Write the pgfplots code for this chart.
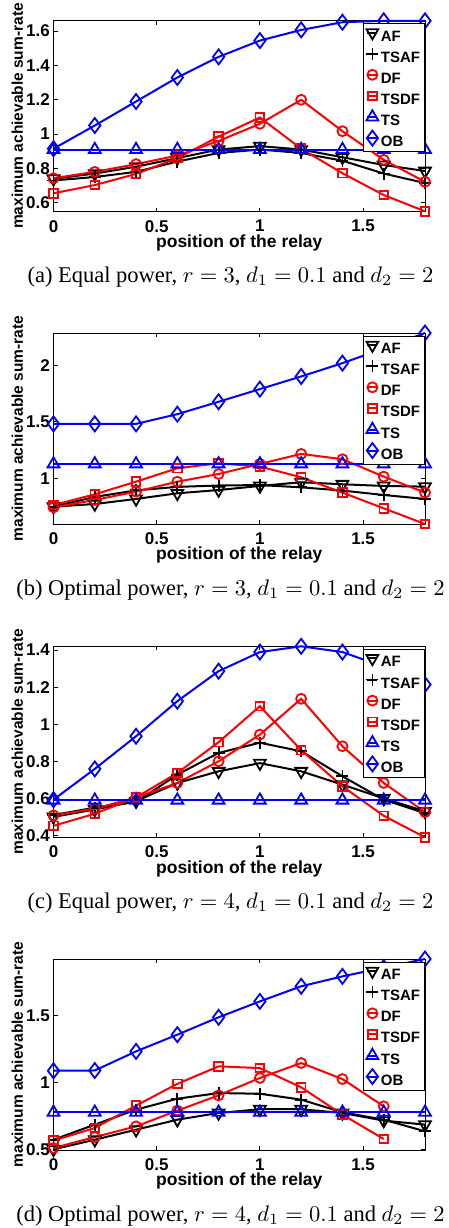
\documentclass[border=0pt]{standalone}
\usepackage{fontspec}
\setmainfont{Liberation Serif}
\setsansfont{Liberation Sans}
\usepackage{pgfplots}
\pgfplotsset{compat=1.18}
\definecolor{mblue}{RGB}{0,0,255}
\definecolor{mred}{RGB}{255,0,0}
\tikzset{capt/.style={anchor=base, font=\fontsize{10}{12}\selectfont\rmfamily, scale=2.25, transform shape}}
\pgfplotsset{
 panel/.style={
  scale only axis, width=371.5pt, height=191pt,
  xmin=0, xmax=1.8, xtick={0,0.5,1,1.5},
  tick align=inside, xtick pos=both, ytick pos=both,
  major tick length=4pt,
  axis line style={line width=1pt},
  every tick/.style={black, line width=0.8pt},
  clip=false,
  /pgf/number format/assume math mode=true,
  ticklabel style={font=\fontsize{17}{17}\selectfont\sffamily\bfseries, inner sep=0pt},
  xticklabel style={yshift=-8.5pt},
  yticklabel style={xshift=-3.5pt},
  xlabel={position of the relay},
  xlabel style={font=\fontsize{17.5}{17.5}\selectfont\sffamily\bfseries, at={(axis description cs:0.5,-0.12)}, anchor=north, inner sep=0pt},
  ylabel={maximum achievable sum-rate},
  ylabel style={font=\fontsize{15.5}{15.5}\selectfont\sffamily\bfseries, at={(axis description cs:-0.0813,0.5)}, anchor=south, inner sep=0pt},
  legend cell align=left,
  legend style={at={(rel axis cs:1,1)}, anchor=north east, xshift=-0.7pt, yshift=-2.7pt,
    draw=black, line width=0.8pt, fill=white, inner xsep=1pt, inner ysep=1pt,
    font=\fontsize{15}{15}\selectfont\sffamily\bfseries,
    row sep=0.6pt, column sep=0.5pt,
    nodes={inner sep=0pt, text height=12pt, text depth=4pt, text width=42pt, align=left}},
  legend image code/.code={\path[draw=none,fill=none] (-8pt,-3.5pt) rectangle (8pt,12.5pt);\draw[mark repeat=2,mark phase=2,#1] plot coordinates {(-5pt,4.5pt) (0pt,4.5pt) (5pt,4.5pt)};},
 },
 af/.style={black, line width=2pt, mark=triangle, mark size=6.8pt, mark options={solid, rotate=180, line width=1.8pt}},
 tsaf/.style={black, line width=2pt, mark=+, mark size=6pt, mark options={solid, line width=1.8pt}},
 df/.style={mred, line width=2pt, mark=o, mark size=5pt, mark options={solid, line width=1.8pt}},
 tsdf/.style={mred, line width=2pt, mark=square, mark size=4.3pt, mark options={solid, line width=1.8pt}},
 ts/.style={mblue, line width=2pt, mark=triangle, mark size=6.8pt, mark options={solid, line width=1.8pt}},
 ob/.style={mblue, line width=2pt, mark=diamond, mark size=7.5pt, mark options={solid, line width=1.8pt}},
}
\begin{document}
\begin{tikzpicture}
\path[use as bounding box] (0,0) rectangle (448pt,-1228pt);
% ---------- (a)
\begin{axis}[panel, at={(53.5pt,-211.5pt)}, anchor=south west,
  ymin=0.549, ymax=1.662, ytick={0.6,0.8,1,1.2,1.4,1.6}]
\addplot[af] coordinates {(0,0.74)(0.2,0.77)(0.4,0.81)(0.6,0.86)(0.8,0.91)(1,0.93)(1.2,0.91)(1.4,0.865)(1.6,0.82)(1.8,0.785)};
\addplot[tsaf] coordinates {(0,0.73)(0.2,0.75)(0.4,0.78)(0.6,0.84)(0.8,0.89)(1,0.91)(1.2,0.89)(1.4,0.845)(1.6,0.77)(1.8,0.715)};
\addplot[df] coordinates {(0,0.743)(0.2,0.78)(0.4,0.825)(0.6,0.875)(0.8,0.96)(1,1.06)(1.2,1.2)(1.4,1.017)(1.6,0.85)(1.8,0.722)};
\addplot[tsdf] coordinates {(0,0.655)(0.2,0.703)(0.4,0.768)(0.6,0.86)(0.8,0.985)(1,1.097)(1.2,0.915)(1.4,0.772)(1.6,0.645)(1.8,0.55)};
\addplot[ts] coordinates {(0,0.91)(0.2,0.91)(0.4,0.91)(0.6,0.91)(0.8,0.91)(1,0.91)(1.2,0.91)(1.4,0.91)(1.6,0.91)(1.8,0.91)};
\addplot[ob] coordinates {(0,0.915)(0.2,1.05)(0.4,1.19)(0.6,1.33)(0.8,1.45)(1,1.545)(1.2,1.607)(1.4,1.652)(1.6,1.66)(1.8,1.66)};
\legend{AF,TSAF,DF,TSDF,TS,OB}
\node[capt] at (axis description cs:0.4764,-0.3717) {(a) Equal power, $r=3$, $d_1=0.1$ and $d_2=2$};
\end{axis}
% ---------- (b)
\begin{axis}[panel, at={(53.5pt,-524pt)}, anchor=south west,
  ymin=0.595, ymax=2.287, ytick={1,1.5,2}]
\addplot[af] coordinates {(0,0.749)(0.2,0.772)(0.4,0.817)(0.6,0.867)(0.8,0.896)(1,0.932)(1.2,0.965)(1.4,0.947)(1.6,0.932)(1.8,0.926)};
\addplot[tsaf] coordinates {(0,0.749)(0.2,0.835)(0.4,0.893)(0.6,0.924)(0.8,0.936)(1,0.94)(1.2,0.92)(1.4,0.891)(1.6,0.852)(1.8,0.817)};
\addplot[df] coordinates {(0,0.743)(0.2,0.808)(0.4,0.882)(0.6,0.97)(0.8,1.038)(1,1.127)(1.2,1.216)(1.4,1.169)(1.6,1.015)(1.8,0.873)};
\addplot[tsdf] coordinates {(0,0.763)(0.2,0.858)(0.4,0.97)(0.6,1.089)(0.8,1.133)(1,1.104)(1.2,1.009)(1.4,0.873)(1.6,0.734)(1.8,0.595)};
\addplot[ts] coordinates {(0,1.127)(0.2,1.127)(0.4,1.127)(0.6,1.127)(0.8,1.127)(1,1.127)(1.2,1.127)(1.4,1.127)(1.6,1.127)(1.8,1.127)};
\addplot[ob] coordinates {(0,1.482)(0.2,1.482)(0.4,1.482)(0.6,1.568)(0.8,1.678)(1,1.79)(1.2,1.902)(1.4,2.02)(1.6,2.15)(1.8,2.287)};
\legend{AF,TSAF,DF,TSDF,TS,OB}
\node[capt] at (axis description cs:0.4764,-0.3717) {(b) Optimal power, $r=3$, $d_1=0.1$ and $d_2=2$};
\end{axis}
% ---------- (c)
\begin{axis}[panel, at={(53.5pt,-837.3pt)}, anchor=south west,
  ymin=0.39, ymax=1.42, ytick={0.4,0.6,0.8,1,1.2,1.4}]
\addplot[af] coordinates {(0,0.5)(0.2,0.54)(0.4,0.585)(0.6,0.683)(0.8,0.746)(1,0.79)(1.2,0.746)(1.4,0.674)(1.6,0.6)(1.8,0.53)};
\addplot[tsaf] coordinates {(0,0.51)(0.2,0.55)(0.4,0.58)(0.6,0.728)(0.8,0.845)(1,0.9)(1.2,0.854)(1.4,0.719)(1.6,0.593)(1.8,0.52)};
\addplot[df] coordinates {(0,0.508)(0.2,0.544)(0.4,0.605)(0.6,0.683)(0.8,0.8)(1,0.944)(1.2,1.137)(1.4,0.881)(1.6,0.683)(1.8,0.526)};
\addplot[tsdf] coordinates {(0,0.452)(0.2,0.517)(0.4,0.605)(0.6,0.737)(0.8,0.903)(1,1.097)(1.2,0.86)(1.4,0.665)(1.6,0.506)(1.8,0.39)};
\addplot[ts] coordinates {(0,0.59)(0.2,0.59)(0.4,0.59)(0.6,0.59)(0.8,0.59)(1,0.59)(1.2,0.59)(1.4,0.59)(1.6,0.59)(1.8,0.59)};
\addplot[ob] coordinates {(0,0.593)(0.2,0.759)(0.4,0.935)(0.6,1.124)(0.8,1.286)(1,1.389)(1.2,1.42)(1.4,1.389)(1.6,1.31)(1.8,1.214)};
\legend{AF,TSAF,DF,TSDF,TS,OB}
\node[capt] at (axis description cs:0.4764,-0.3717) {(c) Equal power, $r=4$, $d_1=0.1$ and $d_2=2$};
\end{axis}
% ---------- (d)
\begin{axis}[panel, at={(53.5pt,-1150pt)}, anchor=south west,
  ymin=0.495, ymax=1.924, ytick={0.5,1,1.5}]
\addplot[af] coordinates {(0,0.5)(0.2,0.572)(0.4,0.647)(0.6,0.722)(0.8,0.772)(1,0.8)(1.2,0.8)(1.4,0.772)(1.6,0.715)(1.8,0.685)};
\addplot[tsaf] coordinates {(0,0.572)(0.2,0.685)(0.4,0.797)(0.6,0.879)(0.8,0.921)(1,0.916)(1.2,0.872)(1.4,0.777)(1.6,0.722)(1.8,0.635)};
\addplot[df] coordinates {(0,0.51)(0.2,0.592)(0.4,0.672)(0.6,0.79)(0.8,0.904)(1,1.034)(1.2,1.146)(1.4,1.026)(1.6,0.822)};
\addplot[tsdf] coordinates {(0,0.565)(0.2,0.66)(0.4,0.827)(0.6,0.99)(0.8,1.121)(1,1.108)(1.2,0.964)(1.4,0.76)(1.6,0.577)};
\addplot[ts] coordinates {(0,0.777)(0.2,0.777)(0.4,0.777)(0.6,0.777)(0.8,0.777)(1,0.777)(1.2,0.777)(1.4,0.777)(1.6,0.777)(1.8,0.777)};
\addplot[ob] coordinates {(0,1.088)(0.2,1.09)(0.4,1.233)(0.6,1.358)(0.8,1.488)(1,1.607)(1.2,1.72)(1.4,1.794)(1.6,1.86)(1.8,1.924)};
\legend{AF,TSAF,DF,TSDF,TS,OB}
\node[capt] at (axis description cs:0.4764,-0.3717) {(d) Optimal power, $r=4$, $d_1=0.1$ and $d_2=2$};
\end{axis}
\end{tikzpicture}
\end{document}
